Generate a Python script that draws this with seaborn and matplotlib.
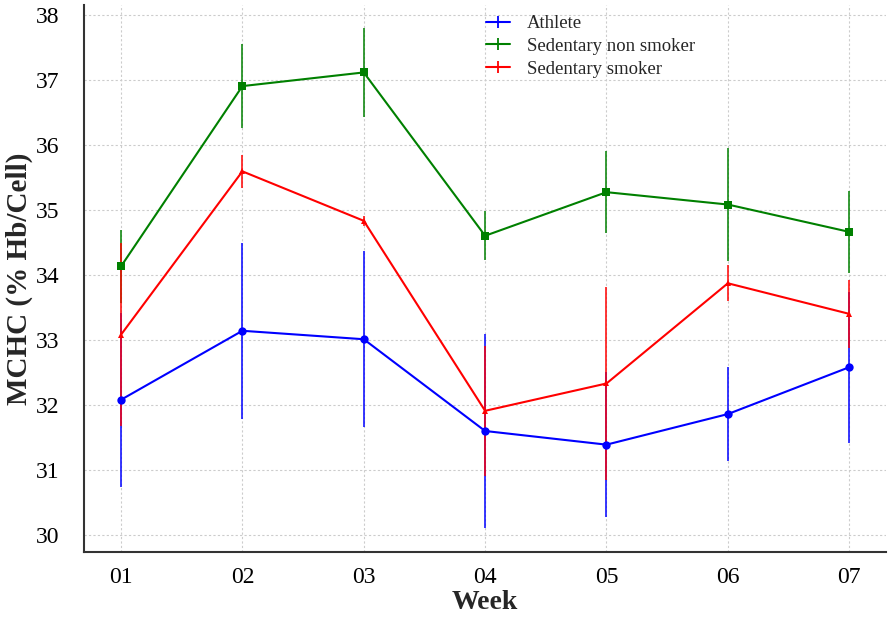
import numpy as np
import pandas as pd
import matplotlib
matplotlib.use("Agg")
import matplotlib.pyplot as plt
import seaborn as sns
from matplotlib.lines import Line2D

weeks = ["01", "02", "03", "04", "05", "06", "07"]
athlete = [32.08, 33.14, 33.01, 31.60, 31.39, 31.86, 32.58]
athlete_err = [1.34, 1.35, 1.35, 1.49, 1.11, 0.72, 1.16]
nonsmoker = [34.13, 36.90, 37.11, 34.60, 35.27, 35.08, 34.66]
nonsmoker_err = [0.56, 0.64, 0.69, 0.38, 0.63, 0.87, 0.63]
smoker = [33.08, 35.59, 34.83, 31.91, 32.33, 33.87, 33.40]
smoker_err = [1.41, 0.25, 0.08, 1.00, 1.49, 0.28, 0.52]
groups = ["Athlete", "Sedentary non smoker", "Sedentary smoker"]
yticks = [30, 31, 32, 33, 34, 35, 36, 37, 38]

sns.set_style("white")
plt.rcParams["font.family"] = ["Liberation Serif", "DejaVu Serif"]

fig = plt.figure(figsize=(8.88, 6.17), dpi=100)
ax = fig.add_axes([0.0946, 0.1053, 0.9034, 0.887])

series = [
    (groups[0], athlete, athlete_err, "#0000ff", "o", 6),
    (groups[1], nonsmoker, nonsmoker_err, "#008000", "s", 6),
    (groups[2], smoker, smoker_err, "#ff0000", "^", 5),
]
x = np.arange(len(weeks))
handles = []
for i, (name, vals, errs, col, mk, ms) in enumerate(series):
    df = pd.DataFrame({"x": x, "y": vals})
    ax.errorbar(x, vals, yerr=errs, fmt="none", ecolor=col, elinewidth=1.1,
                capsize=0, zorder=2 + i * 0.1)
    sns.lineplot(data=df, x="x", y="y", ax=ax, color=col, marker=mk,
                 markersize=ms, markeredgewidth=0, linewidth=1.5,
                 legend=False, zorder=3 + i * 0.1)
    handles.append(Line2D([], [], color=col, marker="+", markersize=9,
                          markeredgewidth=1.3, linewidth=1.5))

ax.set_xlim(-0.305, 6.305)
ax.set_ylim(29.74, 38.15)
ax.set_xticks(x)
ax.set_xticklabels(weeks)
ax.set_yticks(yticks)
ax.set_yticklabels([str(t) for t in yticks])
ax.tick_params(axis="both", direction="in", length=4, width=1,
               labelsize=17, colors="black")
ax.tick_params(axis="y", pad=18)
ax.tick_params(axis="x", pad=11)
ax.grid(True, color="#cccccc", linestyle=(0, (2, 2)), linewidth=0.8)
ax.set_axisbelow(True)
for s in ["top", "right"]:
    ax.spines[s].set_visible(False)
for s in ["left", "bottom"]:
    ax.spines[s].set_color("#333333")
    ax.spines[s].set_linewidth(1.5)

ax.set_xlabel("Week", fontsize=20, fontweight="bold", labelpad=1)
ax.set_ylabel("MCHC (% Hb/Cell)", fontsize=21, fontweight="bold", labelpad=2)

leg = ax.legend(handles, groups, loc="upper left", bbox_to_anchor=(0.48, 1.012),
                frameon=False, fontsize=13.5, handlelength=1.3,
                handletextpad=0.9, labelspacing=0.3)

fig.savefig("out.png", dpi=100)
